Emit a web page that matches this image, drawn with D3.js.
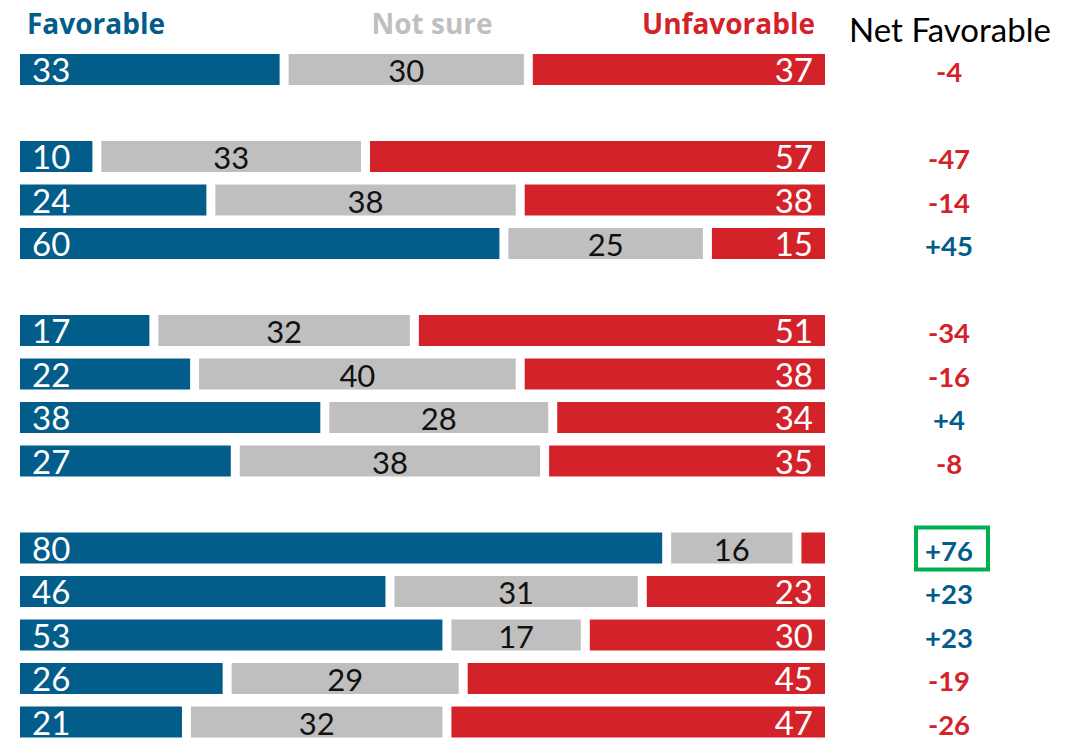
<!DOCTYPE html>
<html>
<head>
<meta charset="utf-8">
<script src="https://cdn.jsdelivr.net/npm/d3@7"></script>
<style>
  html, body { margin: 0; padding: 0; background: #fff; }
  svg { display: block; }
  text { font-family: Lato, "Open Sans", sans-serif; }
</style>
</head>
<body>
<svg id="chart" width="1076" height="740"></svg>
<script>
// Data: slot index in the list (blank slots separate groups)
const slots = [0, 2, 3, 4, 6, 7, 8, 9, 11, 12, 13, 14, 15];
const favorable   = [33, 10, 24, 60, 17, 22, 38, 27, 80, 46, 53, 26, 21];
const notSure     = [30, 33, 38, 25, 32, 40, 28, 38, 16, 31, 17, 29, 32];
const unfavorable = [37, 57, 38, 15, 51, 38, 34, 35, 4, 23, 30, 45, 47];
const netFavorable = ["-4", "-47", "-14", "+45", "-34", "-16", "+4", "-8", "+76", "+23", "+23", "-19", "-26"];
const highlighted = [false, false, false, false, false, false, false, false, true, false, false, false, false];
const headers = ["Favorable", "Not sure", "Unfavorable", "Net Favorable"];

const BLUE = "#025d8a", GREY = "#bfbfbf", RED = "#d3222a", GREEN = "#00b050";

const svg = d3.select("#chart");
const x = d3.scaleLinear().domain([0, 100]).range([20, 834]);
const GAP = 9;
const step = 43.5, bh = 31, top0 = 54;
const y = d3.scaleLinear().domain([0, 1]).range([top0, top0 + step]);

const rows = slots.map((s, i) => {
  const f = favorable[i], n = notSure[i], u = unfavorable[i];
  return {
    slot: s,
    segs: [
      { key: "f", start: 0, end: f, v: f, color: BLUE },
      { key: "n", start: f, end: f + n, v: n, color: GREY },
      { key: "u", start: f + n, end: f + n + u, v: u, color: RED }
    ],
    net: netFavorable[i],
    hl: highlighted[i]
  };
});

const g = svg.append("g");
const rowG = g.selectAll("g.row").data(rows).join("g")
  .attr("class", "row")
  .attr("transform", d => `translate(0,${y(d.slot)})`);

rowG.selectAll("rect").data(d => d.segs).join("rect")
  .attr("x", d => x(d.start))
  .attr("y", 0)
  .attr("width", d => Math.max(0, x(d.end) - GAP - x(d.start)))
  .attr("height", bh)
  .attr("fill", d => d.color);

// labels
rowG.selectAll("text.val").data(d => d.segs.filter(s => s.v >= 8)).join("text")
  .attr("class", "val")
  .attr("x", d => d.key === "f" ? x(d.start) + 12 : d.key === "n" ? (x(d.start) + x(d.end) - GAP) / 2 : x(d.end) - GAP - 12)
  .attr("y", 28)
  .attr("text-anchor", d => d.key === "f" ? "start" : d.key === "n" ? "middle" : "end")
  .attr("fill", d => d.key === "n" ? "#111" : "#fff")
  .style("font-size", d => d.key === "n" ? "31px" : "33px")
  .text(d => d.v);

// net favorable
rowG.append("text")
  .attr("x", 949)
  .attr("y", 28)
  .attr("text-anchor", "middle")
  .attr("fill", d => d.net.startsWith("+") ? BLUE : RED)
  .style("font-size", "27.5px")
  .style("font-weight", "bold")
  .text(d => d.net);

rowG.filter(d => d.hl).append("rect")
  .attr("x", 916)
  .attr("y", -5)
  .attr("width", 72)
  .attr("height", 42)
  .attr("fill", "none")
  .attr("stroke", GREEN)
  .attr("stroke-width", 4);

// headers
const hf = "'Open Sans', Lato, sans-serif";
svg.append("text").attr("x", 27).attr("y", 34).attr("fill", BLUE)
  .style("font-family", hf).style("font-size", "28px").style("font-weight", "700").text(headers[0]);
svg.append("text").attr("x", 432).attr("y", 34).attr("text-anchor", "middle").attr("fill", GREY)
  .style("font-family", hf).style("font-size", "28px").style("font-weight", "700").text(headers[1]);
svg.append("text").attr("x", 815).attr("y", 34).attr("text-anchor", "end").attr("fill", RED)
  .style("font-family", hf).style("font-size", "28px").style("font-weight", "700").text(headers[2]);
svg.append("text").attr("x", 950).attr("y", 42).attr("text-anchor", "middle").attr("fill", "#000")
  .style("font-size", "33px").text(headers[3]);
</script>
</body>
</html>
